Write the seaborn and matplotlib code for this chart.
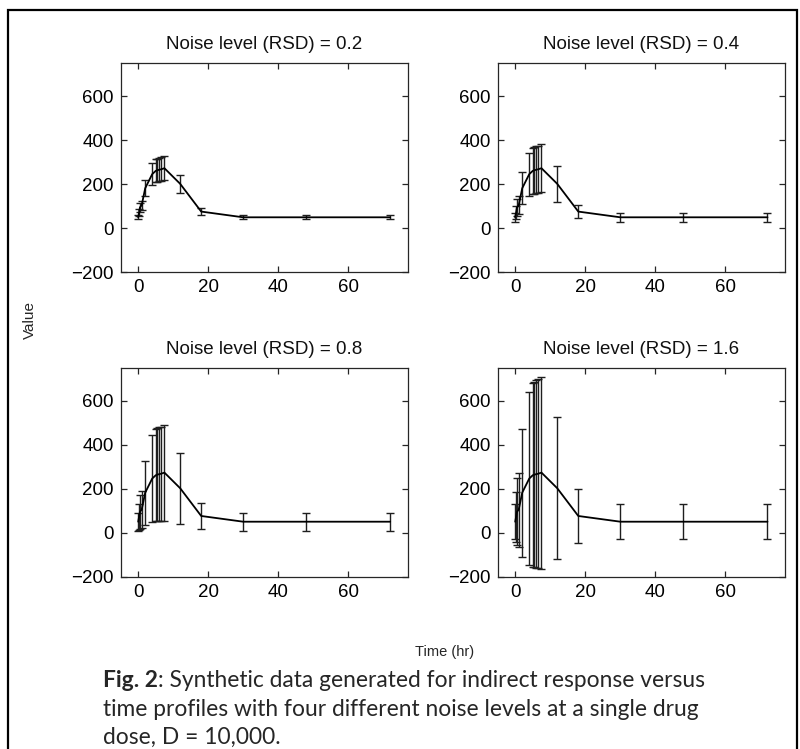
import matplotlib
matplotlib.use("Agg")
import matplotlib.pyplot as plt
import seaborn as sns
import pandas as pd
from matplotlib.patches import Rectangle

# ---------------- data ----------------
times = [0, 0.25, 0.5, 1, 2, 4, 5, 5.5, 6, 6.5, 7.5, 12, 18, 30, 48, 72]
mean_value = [50, 72, 95, 105, 182, 246, 261, 264, 266, 268, 273, 202, 76, 50, 50, 50]
noise_levels = ["0.2", "0.4", "0.8", "1.6"]
err_02 = [10, 14, 19, 21, 36, 49, 52, 53, 53, 54, 55, 40, 15, 10, 10, 10]
err_04 = [20, 29, 38, 42, 73, 98, 104, 106, 106, 107, 109, 81, 30, 20, 20, 20]
err_08 = [40, 58, 76, 84, 146, 197, 209, 211, 213, 214, 218, 162, 61, 40, 40, 40]
err_16 = [80, 115, 152, 168, 291, 394, 418, 422, 426, 429, 437, 323, 122, 80, 80, 80]
errors = [err_02, err_04, err_08, err_16]
x_ticks = [0, 20, 40, 60]
y_ticks = [-200, 0, 200, 400, 600]
caption_bold = "Fig. 2"
caption_line1 = ": Synthetic data generated for indirect response versus"
caption_line2 = "time profiles with four different noise levels at a single drug"
caption_line3 = "dose, D = 10,000."

# ---------------- figure ----------------
sns.set_theme(style="ticks")
plt.rcParams['font.family'] = ['Liberation Sans', 'DejaVu Sans']

W, H = 800, 749
fig = plt.figure(figsize=(W / 100, H / 100), dpi=100)

def px_rect(l, t, r, b):
    return [l / W, 1 - b / H, (r - l) / W, (b - t) / H]

rects = [px_rect(120.7, 63.3, 407.7, 272.3),
         px_rect(497.7, 63.3, 785.0, 272.3),
         px_rect(120.7, 367.7, 407.7, 576.7),
         px_rect(497.7, 367.7, 785.0, 576.7)]

df = pd.DataFrame({"time": times, "value": mean_value})

for rect, lvl, err in zip(rects, noise_levels, errors):
    ax = fig.add_axes(rect)
    ax.errorbar(times, mean_value, yerr=err, fmt='none', ecolor='#1e1e1e',
                elinewidth=1.0, capsize=2.8, capthick=1.0, zorder=2)
    sns.lineplot(data=df, x="time", y="value", ax=ax, color='black',
                 linewidth=1.3, zorder=3)
    ax.set_xlim(-5, 77)
    ax.set_ylim(-200, 750)
    ax.set_xticks(x_ticks)
    ax.set_yticks(y_ticks)
    ax.set_yticklabels(["\u2212200", "0", "200", "400", "600"])
    ax.set_xlabel("")
    ax.set_ylabel("")
    ax.tick_params(direction='in', top=True, right=True, length=4, width=0.9,
                   labelsize=13.5, pad=5, colors='#262626', labelcolor='black')
    for s in ax.spines.values():
        s.set_visible(True)
        s.set_color('#262626')
        s.set_linewidth(0.9)
    ax.set_title(f"Noise level (RSD) = {lvl}", fontsize=13.5, pad=10, color='#111111')

fig.text(30 / W, 1 - 320 / H, "Value", rotation=90, ha='center', va='center',
         fontsize=11)
fig.text(445 / W, 1 - 652 / H, "Time (hr)", ha='center', va='center',
         fontsize=10.5)

# outer frame
fig.patches.append(Rectangle((8 / W, -0.05), (797 - 8) / W, 1.05 - 10 / H,
                             transform=fig.transFigure, fill=False,
                             edgecolor='black', linewidth=1.6))

# caption with width fitting
cap_font = ['Lato', 'DejaVu Sans']
fig.canvas.draw()
renderer = fig.canvas.get_renderer()

def width_px(txt, size, weight='normal'):
    t = fig.text(0, 0, txt, fontsize=size, family=cap_font, fontweight=weight)
    w = t.get_window_extent(renderer).width
    t.remove()
    return w

base = 16
w1 = width_px(caption_bold, base, 'bold') + width_px(caption_line1, base)
size = base * 602 / w1
x0 = 103
fig.text(x0 / W, 1 - 687 / H, caption_bold, fontsize=size, family=cap_font,
         fontweight='bold', va='baseline')
wb = width_px(caption_bold, size, 'bold')
fig.text((x0 + wb) / W, 1 - 687 / H, caption_line1, fontsize=size, family=cap_font,
         va='baseline')
fig.text(x0 / W, 1 - 716 / H, caption_line2, fontsize=size, family=cap_font,
         va='baseline')
fig.text(x0 / W, 1 - 744 / H, caption_line3, fontsize=size, family=cap_font,
         va='baseline')

fig.savefig("out.png", dpi=100)
